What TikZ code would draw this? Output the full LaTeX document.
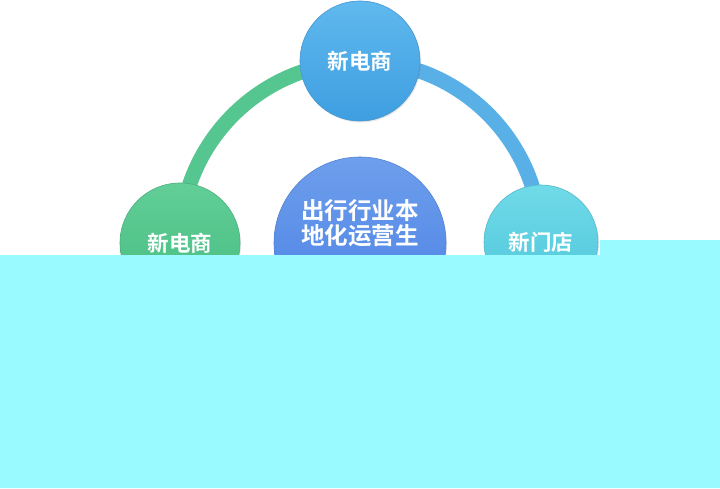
\documentclass[tikz,border=0pt]{standalone}
\usepackage{fontspec}
\newfontfamily\cjk{Noto Sans CJK SC}[BoldFont={* Bold}]
\usetikzlibrary{shadows,backgrounds}
\definecolor{arcgreen}{HTML}{55C690}
\definecolor{arcblue}{HTML}{58B0E6}
\definecolor{cyanbox}{HTML}{99FBFF}
\tikzset{
  bubble/.style={circle, minimum size=#1, inner sep=0pt, text=white,
    font=\cjk\bfseries\fontsize{21.5}{23}\selectfont, align=center, line width=0.6pt,
    drop shadow={opacity=0.18, shadow xshift=1pt, shadow yshift=-1.5pt}},
  ring/.style={line width=15pt, line cap=round},
  hubtext/.style={text=white, inner sep=0pt, align=center,
    font=\cjk\bfseries\fontsize{23.5}{23.5}\selectfont}
}
\begin{document}
\begin{tikzpicture}[x=1pt,y=1pt]
\useasboundingbox (0,0) rectangle (720,488);
% circles
\node[bubble=120pt, top color={rgb,255:red,96;green,185;blue,238}, bottom color={rgb,255:red,62;green,158;blue,224}, draw={rgb,255:red,70;green,150;blue,210}] (top) at (360,427) {新电商};
\node[bubble=120pt, top color={rgb,255:red,98;green,206;blue,152}, bottom color={rgb,255:red,70;green,188;blue,128}, draw={rgb,255:red,80;green,175;blue,125}] (left) at (180,245) {新电商};
\node[bubble=114pt, top color={rgb,255:red,112;green,218;blue,232}, bottom color={rgb,255:red,78;green,198;blue,218}, draw={rgb,255:red,85;green,185;blue,205}] (right) at (541,246) {新门店};
\node[bubble=172pt, top color={rgb,255:red,110;green,158;blue,236}, bottom color={rgb,255:red,72;green,128;blue,228}, draw={rgb,255:red,80;green,130;blue,210}] (hubnode) at (360,245) {};
\node[hubtext] (hublabel) at ([yshift=20pt]hubnode.center) {出行行业本\\[2pt]地化运营生};
% connectors behind the circles
\begin{scope}[on background layer]
\fill[white] (0,0) rectangle (720,488);
\draw[ring, arcgreen] (left.center) arc[start angle=180, end angle=90, radius=181];
\draw[ring, arcblue] (top.center) arc[start angle=90, end angle=0, radius=181];
\end{scope}
% cyan cover
\fill[cyanbox] (0,0) -- (0,233) -- (600,233) -- (600,248) -- (720,248) -- (720,0) -- cycle;
\end{tikzpicture}
\end{document}
